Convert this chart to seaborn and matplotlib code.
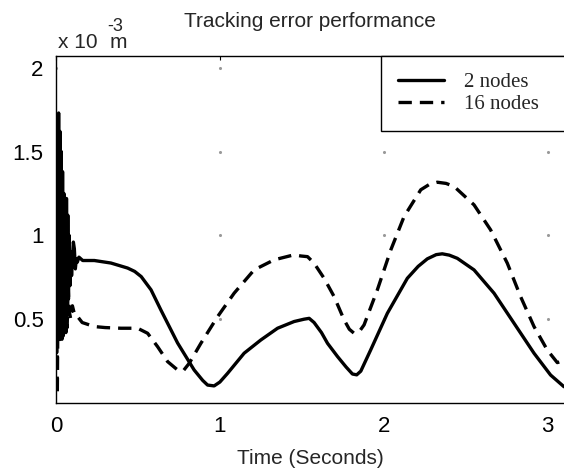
import matplotlib
matplotlib.use("Agg")
import matplotlib.pyplot as plt
import seaborn as sns
import numpy as np
import pandas as pd

# ---- data (values in x 10^-3 m) ----
t_2nodes = [0.000, 0.004, 0.008, 0.012, 0.016, 0.020, 0.024, 0.028, 0.032, 0.036,
            0.040, 0.044, 0.048, 0.052, 0.056, 0.060, 0.064, 0.068, 0.072, 0.076,
            0.080, 0.085, 0.090, 0.095, 0.100, 0.106, 0.112, 0.118, 0.124, 0.130,
            0.140, 0.163, 0.234, 0.335, 0.437, 0.480, 0.520, 0.580, 0.640, 0.742,
            0.843, 0.895, 0.925, 0.965, 1.000, 1.047, 1.148, 1.250, 1.352, 1.453,
            1.514, 1.545, 1.575, 1.620, 1.657, 1.718, 1.770, 1.809, 1.835, 1.860,
            1.920, 2.022, 2.144, 2.210, 2.266, 2.320, 2.357, 2.400, 2.449, 2.551,
            2.673, 2.795, 2.917, 3.018, 3.100]
e_2nodes = [1.40, 0.30, 1.50, 0.45, 1.73, 0.40, 1.62, 0.42, 1.50, 0.38,
            1.38, 0.45, 1.25, 0.50, 1.18, 0.42, 1.22, 0.55, 1.12, 0.62,
            1.00, 0.70, 0.90, 0.76, 0.86, 0.96, 0.92, 0.80, 0.86, 0.84,
            0.87, 0.85, 0.85, 0.835, 0.805, 0.785, 0.754, 0.675, 0.555, 0.358,
            0.197, 0.135, 0.107, 0.102, 0.125, 0.177, 0.297, 0.376, 0.446, 0.486,
            0.500, 0.505, 0.480, 0.420, 0.356, 0.277, 0.215, 0.173, 0.168, 0.190,
            0.316, 0.535, 0.744, 0.815, 0.860, 0.885, 0.890, 0.882, 0.863, 0.794,
            0.655, 0.476, 0.297, 0.167, 0.097]

t_16nodes = [0.000, 0.008, 0.014, 0.020, 0.026, 0.032, 0.038, 0.044, 0.050, 0.056,
             0.062, 0.068, 0.074, 0.080, 0.090, 0.100, 0.115, 0.132, 0.160, 0.234,
             0.300, 0.396, 0.498, 0.559, 0.620, 0.681, 0.742, 0.775, 0.813, 0.884,
             0.986, 1.087, 1.209, 1.331, 1.453, 1.494, 1.535, 1.575, 1.636, 1.697,
             1.758, 1.790, 1.819, 1.850, 1.880, 1.961, 2.043, 2.124, 2.226, 2.280,
             2.327, 2.380, 2.429, 2.551, 2.652, 2.754, 2.835, 2.917, 2.998, 3.059,
             3.100]
e_16nodes = [1.43, 0.05, 0.90, 0.35, 1.10, 0.45, 0.90, 0.40, 0.80, 0.50,
             0.75, 0.45, 0.70, 0.55, 0.50, 0.58, 0.52, 0.515, 0.48, 0.456,
             0.45, 0.446, 0.446, 0.416, 0.336, 0.247, 0.197, 0.190, 0.237, 0.356,
             0.515, 0.655, 0.794, 0.854, 0.884, 0.877, 0.873, 0.834, 0.744, 0.635,
             0.496, 0.440, 0.416, 0.425, 0.466, 0.675, 0.913, 1.112, 1.272, 1.305,
             1.317, 1.310, 1.292, 1.182, 1.033, 0.834, 0.635, 0.456, 0.316, 0.241,
             0.253]

x_ticks = [0, 1, 2, 3]
y_ticks = [0.5, 1, 1.5, 2]
y_tick_labels = ["0.5", "1", "1.5", "2"]

sns.set_style("white")
plt.rcParams['font.family'] = ['Liberation Sans', 'DejaVu Sans']

fig = plt.figure(figsize=(5.64, 4.72), dpi=100)
ax = fig.add_axes([56/564, 1 - 403/472, 1 - 56/564, (403 - 56)/472])

sns.lineplot(x=t_2nodes, y=e_2nodes, ax=ax, color="black", lw=2.4,
             estimator=None, sort=False, label="2 nodes")
sns.lineplot(x=t_16nodes, y=e_16nodes, ax=ax, color="black", lw=2.4,
             estimator=None, sort=False, label="16 nodes",
             linestyle=(0, (4, 2.4)))

ax.set_xlim(0, 3.10)
ax.set_ylim(0, 2.07)
ax.set_xticks(x_ticks)
ax.set_xticklabels([str(v) for v in x_ticks])
ax.set_yticks(y_ticks)
ax.set_yticklabels(y_tick_labels)

# faint grid dots at tick intersections
gx, gy = np.meshgrid(x_ticks, y_ticks)
ax.scatter(gx.ravel(), gy.ravel(), s=1.5, color="#999999", zorder=0)

ax.tick_params(axis="both", direction="in", length=3, width=0.8,
               labelsize=16, colors="black", top=True, right=False)
ax.tick_params(axis="x", pad=9)
ax.tick_params(axis="y", pad=9)

for side in ["left", "bottom", "top"]:
    ax.spines[side].set_visible(True)
    ax.spines[side].set_color("black")
    ax.spines[side].set_linewidth(1.0)
ax.spines["right"].set_visible(False)

ax.set_xlabel("Time (Seconds)", fontsize=15, labelpad=9)
ax.set_title("Tracking error performance", fontsize=15, pad=21)

# exponent / unit label
fig.text(58/564, 1 - 48/472, "x 10", fontsize=15, ha="left", va="baseline")
fig.text(107/564, 1 - 31/472, "-3", fontsize=13, ha="left", va="baseline")
fig.text(110/564, 1 - 48/472, "m", fontsize=15, ha="left", va="baseline")

leg = ax.legend(loc="upper left", bbox_to_anchor=(0.64, 0.0, 0.5, 1.0),
                mode="expand", frameon=True, fancybox=False,
                prop={"family": ["Liberation Serif"], "size": 15},
                handlelength=2.2, handletextpad=1.0, borderpad=0.8,
                labelspacing=0.1, borderaxespad=0.0)
leg.get_frame().set_edgecolor("black")
leg.get_frame().set_linewidth(1.0)
leg.get_frame().set_alpha(1)

fig.savefig("out.png", dpi=100)
